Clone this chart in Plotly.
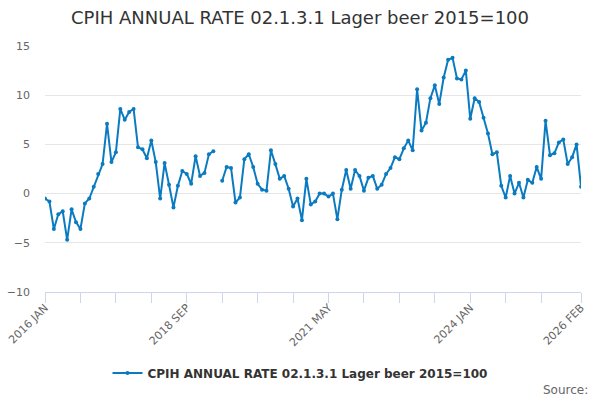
import plotly.graph_objects as go

TITLE = "CPIH ANNUAL RATE 02.1.3.1 Lager beer 2015=100"

# Monthly categories, 2016 JAN .. 2026 FEB
MONTHS = ["JAN", "FEB", "MAR", "APR", "MAY", "JUN",
          "JUL", "AUG", "SEP", "OCT", "NOV", "DEC"]
categories = [f"{y} {m}" for y in range(2016, 2027) for m in MONTHS][:122]

# annual rate, % (None = no value published)
rates = [
    -0.5, -0.8, -3.6, -2.1, -1.8, -4.7, -1.6, -2.9, -3.6, -1.0, -0.5, 0.7,
    2.0, 3.0, 7.1, 3.2, 4.2, 8.6, 7.5, 8.3, 8.6, 4.7, 4.5, 3.6,
    5.4, 3.2, -0.5, 3.1, 0.9, -1.4, 0.8, 2.3, 2.0, 1.0, 3.8, 1.8,
    2.1, 4.0, 4.3, None, 1.3, 2.7, 2.6, -0.9, -0.4, 3.5, 4.0, 2.7,
    1.0, 0.4, 0.3, 4.4, 3.0, 1.5, 1.8, 0.5, -1.3, -0.5, -2.7, 1.5,
    -1.1, -0.8, 0.0, 0.0, -0.3, 0.0, -2.6, 0.4, 2.4, 0.5, 2.4, 1.8,
    0.3, 1.6, 1.8, 0.5, 0.9, 2.0, 2.6, 3.7, 3.5, 4.6, 5.4, 4.4,
    10.6, 6.4, 7.2, 9.7, 11.0, 9.1, 11.8, 13.6, 13.8, 11.7, 11.6, 12.5,
    7.6, 9.7, 9.3, 7.7, 6.1, 4.0, 4.2, 0.8, -0.4, 1.8, 0.0, 1.1,
    -0.4, 1.4, 1.1, 2.7, 1.5, 7.4, 3.9, 4.1, 5.2, 5.5, 3.0, 3.7,
    5.0, 0.7,
]

y_ticks = [-10, -5, 0, 5, 10, 15]

# tick marks every 8 months plus the last month, labels on every 4th mark
tick_idx = list(range(0, 113, 8)) + [len(categories) - 1]
tick_vals = [categories[i] for i in tick_idx]
tick_text = [categories[i] if (i % 32 == 0 or i == len(categories) - 1) else ""
             for i in tick_idx]

LINE = "#0b7bc1"
FONT = "DejaVu Sans"

fig = go.Figure()
fig.add_trace(
    go.Scatter(
        x=categories,
        y=rates,
        name=TITLE,
        mode="lines+markers",
        line=dict(color=LINE, width=2),
        marker=dict(color=LINE, size=4),
        connectgaps=False,
    )
)

fig.update_layout(
    width=600,
    height=400,
    paper_bgcolor="white",
    plot_bgcolor="white",
    font=dict(family=FONT, color="#666666"),
    margin=dict(l=45, r=19, t=46, b=108, autoexpand=False),
    title=dict(
        text=TITLE,
        x=0.5,
        xref="container",
        xanchor="center",
        y=1 - 18 / 400,
        yanchor="middle",
        font=dict(family=FONT, size=18, color="#333333"),
    ),
    showlegend=True,
    legend=dict(
        orientation="h",
        x=(300 - 45) / 536,
        xanchor="center",
        y=(292 - 373) / 246,
        yanchor="middle",
        font=dict(family=FONT, size=12, color="#333333", weight="bold"),
    ),
    annotations=[
        dict(
            text="Source:",
            xref="paper",
            yref="paper",
            x=(590 - 45) / 536,
            y=(292 - 390) / 246,
            xanchor="right",
            yanchor="middle",
            showarrow=False,
            font=dict(family=FONT, size=12, color="#666666"),
        )
    ],
)

fig.update_xaxes(
    type="category",
    range=[0, len(categories) - 1],
    tickvals=tick_vals,
    ticktext=tick_text,
    tickangle=-45,
    ticks="outside",
    ticklen=10,
    tickcolor="#ccd6eb",
    ticklabelstandoff=-6,
    showline=True,
    linecolor="#ccd6eb",
    showgrid=False,
    automargin=False,
    tickfont=dict(size=11, color="#666666"),
)

fig.update_yaxes(
    range=[-10, 15],
    tickvals=y_ticks,
    showgrid=True,
    gridcolor="#e6e6e6",
    zeroline=False,
    showline=False,
    ticks="",
    ticklabelstandoff=14,
    automargin=False,
    tickfont=dict(size=11, color="#666666"),
)

# drop the browser's default 8px body margin so the 600x400 figure fits the window
fig.write_html(
    "out.html",
    config={"displayModeBar": False},
    post_script="document.body.style.margin = '0';",
)
